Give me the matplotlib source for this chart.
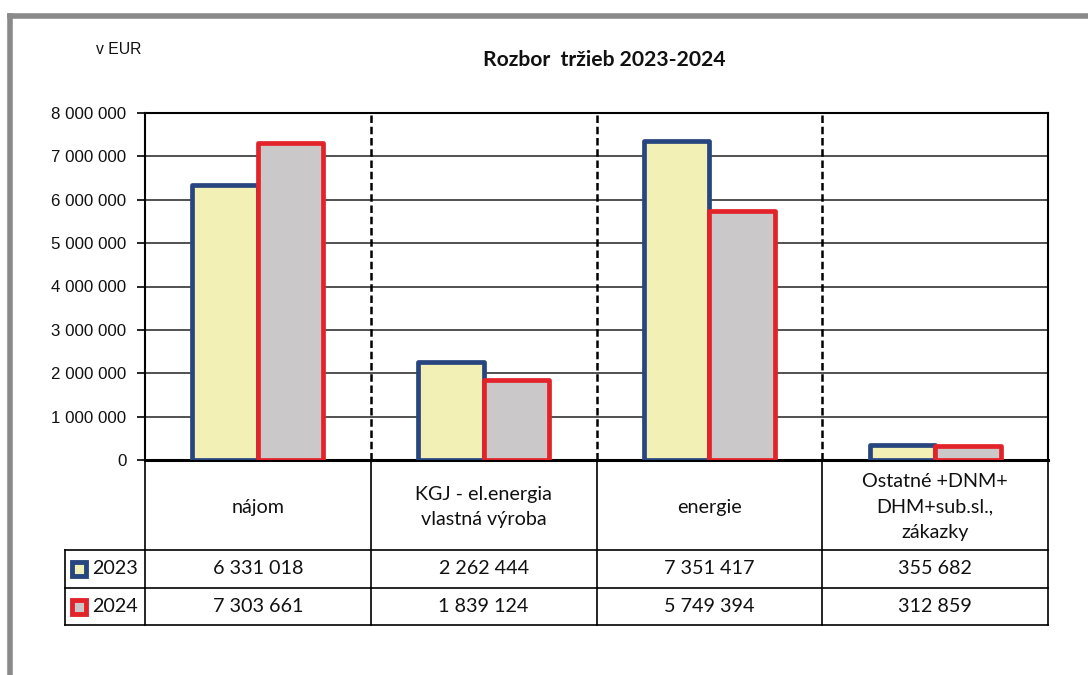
import matplotlib
matplotlib.use("Agg")
import matplotlib.pyplot as plt
import numpy as np
from matplotlib.lines import Line2D

categories = ["nájom", "KGJ - el.energia\nvlastná výroba", "energie",
              "Ostatné +DNM+\nDHM+sub.sl.,\nzákazky"]
years = ["2023", "2024"]
values_2023 = [6331018, 2262444, 7351417, 355682]
values_2024 = [7303661, 1839124, 5749394, 312859]
yticks = [0, 1000000, 2000000, 3000000, 4000000, 5000000, 6000000, 7000000, 8000000]
title = "Rozbor  tržieb 2023-2024"
unit_label = "v EUR"

edge_colors = ["#27467f", "#e3232a"]
fill_colors = ["#f3f0b6", "#cac8c8"]

W, H = 1088, 675
fig = plt.figure(figsize=(W / 100, H / 100), dpi=100)
fig.patch.set_facecolor("white")

# scan frame
fig.add_artist(Line2D([10 / W, 1.0], [1 - 16 / H, 1 - 16 / H], color="#8a8a8a", lw=4))
fig.add_artist(Line2D([10 / W, 10 / W], [1 - 16 / H, 0.0], color="#8a8a8a", lw=4))

left, right, top, bottom = 145, 1048, 113, 460
ax = fig.add_axes([left / W, 1 - bottom / H, (right - left) / W, (bottom - top) / H])

x = np.arange(len(categories))
width = 0.29
series = [values_2023, values_2024]
for i, vals in enumerate(series):
    ax.bar(x + (i - 0.5) * width, vals, width=width, color=fill_colors[i],
           edgecolor=edge_colors[i], linewidth=3.4, joinstyle="round", zorder=3 + i)

ax.set_xlim(-0.5, len(categories) - 0.5)
ax.set_ylim(0, 8000000)
ax.set_yticks(yticks)
ax.set_yticklabels([f"{v:,}".replace(",", " ") for v in yticks],
                   fontfamily="Liberation Sans", fontsize=12.2, color="#111111")
ax.set_xticks([])
ax.tick_params(axis="y", length=5.5, width=1.2, color="black", pad=8)
ax.yaxis.grid(True, color="#222222", linewidth=1.1, zorder=0)
ax.set_axisbelow(True)
for s in ax.spines.values():
    s.set_color("black")
    s.set_linewidth(1.5)
ax.spines["bottom"].set_linewidth(2.2)

# dashed category dividers in plot area
for b in x[:-1] + 0.5:
    ax.axvline(b, color="black", lw=1.8, ls=(0, (3, 1.5)), zorder=2)

# data table below
tr = ax.get_xaxis_transform()
ah = bottom - top
y_cat = -(550 - bottom) / ah
y_r1 = -(588 - bottom) / ah
y_r2 = -(625 - bottom) / ah
x_leg = (65 - left) / ((right - left) / len(categories)) - 0.5
tfont = dict(fontfamily="Lato", fontsize=14.2, color="#111111")

lkw = dict(color="black", lw=1.2, transform=tr, clip_on=False)
bounds = np.concatenate([[-0.5], x + 0.5])
for b in bounds:
    ax.add_line(Line2D([b, b], [0, y_r2], **lkw))
ax.add_line(Line2D([x_leg, x_leg], [y_cat, y_r2], **lkw))
ax.add_line(Line2D([x_leg, bounds[-1]], [y_cat, y_cat], **lkw))
ax.add_line(Line2D([x_leg, bounds[-1]], [y_r1, y_r1], **lkw))
ax.add_line(Line2D([x_leg, bounds[-1]], [y_r2, y_r2], **lkw))

for i, c in enumerate(categories):
    ax.text(x[i], y_cat / 2 - 0.006, c, ha="center", va="center", transform=tr,
            linespacing=1.6, **tfont)
rows_y = [(y_cat + y_r1) / 2, (y_r1 + y_r2) / 2]
for r, vals in enumerate(series):
    for i, v in enumerate(vals):
        ax.text(x[i], rows_y[r], f"{v:,}".replace(",", " "), ha="center", va="center",
                transform=tr, **tfont)
    ax.plot([x_leg + 0.063], [rows_y[r]], marker="s", markersize=10,
            markerfacecolor=fill_colors[r], markeredgecolor=edge_colors[r],
            markeredgewidth=3.5, transform=tr, clip_on=False)
    ax.text(x_leg + 0.12, rows_y[r], years[r], ha="left", va="center",
            transform=tr, **tfont)

fig.text(604 / W, 1 - 60 / H, title, ha="center", va="center",
         fontfamily="Lato", fontweight="bold", fontsize=15.2, color="#111111")
fig.text(96 / W, 1 - 49 / H, unit_label, ha="left", va="center",
         fontfamily="Liberation Sans", fontsize=11.3, color="#111111")

fig.savefig("out.png", dpi=100)
